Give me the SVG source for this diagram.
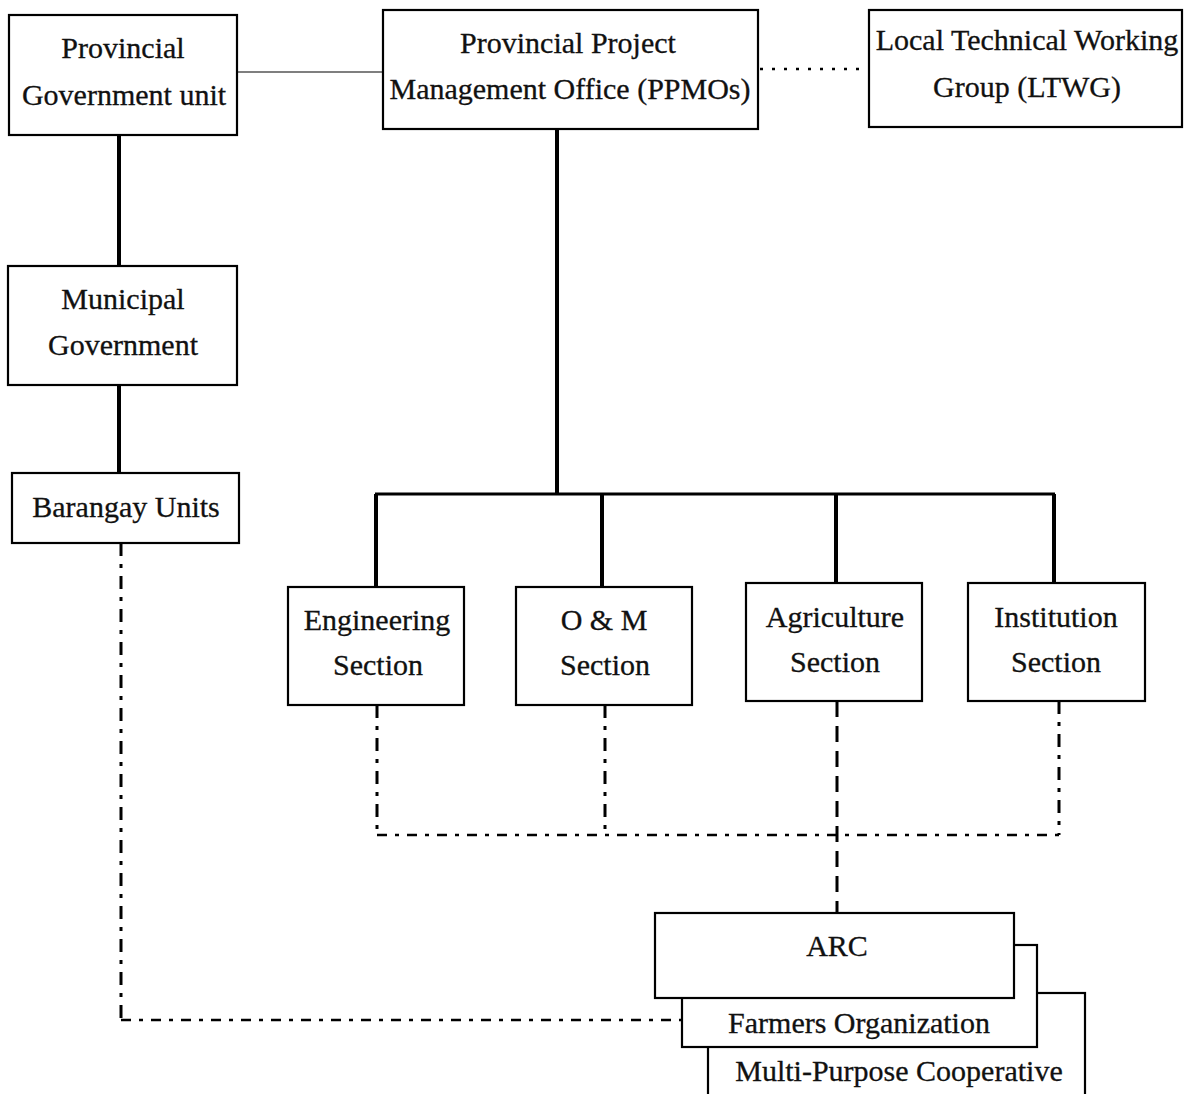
<svg xmlns="http://www.w3.org/2000/svg" width="1193" height="1094" viewBox="0 0 1193 1094">
<style>
.box{fill:#fff;stroke:#000;stroke-width:2.2}
.t{font-family:"Liberation Serif","Times New Roman",serif;font-size:30px;fill:#111;stroke:#111;stroke-width:0.3;text-anchor:middle}
.solid{stroke:#000;stroke-width:4;fill:none}
.bus{stroke:#000;stroke-width:3;fill:none}
.thin{stroke:#000;stroke-width:1.2;fill:none}
.dot{stroke:#000;stroke-width:2.5;fill:none;stroke-dasharray:3 9}
.dd{stroke:#000;stroke-width:3;fill:none;stroke-dasharray:13 8 4 8}
.ddh{stroke:#000;stroke-width:2.5;fill:none;stroke-dasharray:10 8 4 8}
.dash{stroke:#000;stroke-width:3;fill:none;stroke-dasharray:16 9}
</style>
<rect width="1193" height="1094" fill="#fff"/>
<g id="connectors">
<line class="thin" x1="237" y1="72" x2="383" y2="72"/>
<line class="dot" x1="760" y1="69" x2="868" y2="69"/>
<line class="solid" x1="119" y1="135" x2="119" y2="266"/>
<line class="solid" x1="119" y1="385" x2="119" y2="473"/>
<line class="solid" x1="557" y1="128" x2="557" y2="494"/>
<line class="bus" x1="375" y1="494" x2="1055" y2="494"/>
<line class="solid" x1="376" y1="494" x2="376" y2="587"/>
<line class="solid" x1="602" y1="494" x2="602" y2="587"/>
<line class="solid" x1="836" y1="494" x2="836" y2="583"/>
<line class="solid" x1="1054" y1="494" x2="1054" y2="583"/>
<polyline class="dd" points="121,543 121,1020"/>
<polyline class="ddh" points="121,1020 682,1020"/>
<line class="dd" x1="377" y1="705" x2="377" y2="835"/>
<line class="dd" x1="605" y1="705" x2="605" y2="835"/>
<line class="dd" x1="1059" y1="701" x2="1059" y2="835"/>
<line class="ddh" x1="377" y1="835" x2="1059" y2="835"/>
<line class="dash" x1="837" y1="701" x2="837" y2="913"/>
</g>
<g id="pgu">
<rect class="box" x="9" y="15" width="228" height="120"/>
<text class="t" x="123" y="58">Provincial</text>
<text class="t" x="124" y="105">Government unit</text>
</g>
<g id="ppmo">
<rect class="box" x="383" y="10" width="375" height="119"/>
<text class="t" x="568" y="53">Provincial Project</text>
<text class="t" x="570" y="99">Management Office (PPMOs)</text>
</g>
<g id="ltwg">
<rect class="box" x="869" y="10" width="313" height="117"/>
<text class="t" x="1027" y="50">Local Technical Working</text>
<text class="t" x="1027" y="97">Group (LTWG)</text>
</g>
<g id="municipal">
<rect class="box" x="8" y="266" width="229" height="119"/>
<text class="t" x="123" y="309">Municipal</text>
<text class="t" x="123" y="355">Government</text>
</g>
<g id="barangay">
<rect class="box" x="12" y="473" width="227" height="70"/>
<text class="t" x="126" y="517">Barangay Units</text>
</g>
<g id="engineering">
<rect class="box" x="288" y="587" width="176" height="118"/>
<text class="t" x="377" y="630">Engineering</text>
<text class="t" x="378" y="675">Section</text>
</g>
<g id="om">
<rect class="box" x="516" y="587" width="176" height="118"/>
<text class="t" x="604" y="630">O &amp; M</text>
<text class="t" x="605" y="675">Section</text>
</g>
<g id="agriculture">
<rect class="box" x="746" y="583" width="176" height="118"/>
<text class="t" x="835" y="627">Agriculture</text>
<text class="t" x="835" y="672">Section</text>
</g>
<g id="institution">
<rect class="box" x="968" y="583" width="177" height="118"/>
<text class="t" x="1056" y="627">Institution</text>
<text class="t" x="1056" y="672">Section</text>
</g>
<g id="mpc">
<rect class="box" x="708" y="993" width="377" height="110"/>
<text class="t" x="899" y="1081">Multi-Purpose Cooperative</text>
</g>
<g id="farmers">
<rect class="box" x="682" y="945" width="355" height="102"/>
<text class="t" x="859" y="1033">Farmers Organization</text>
</g>
<g id="arc">
<rect class="box" x="655" y="913" width="359" height="85"/>
<text class="t" x="837" y="956">ARC</text>
</g>
</svg>
